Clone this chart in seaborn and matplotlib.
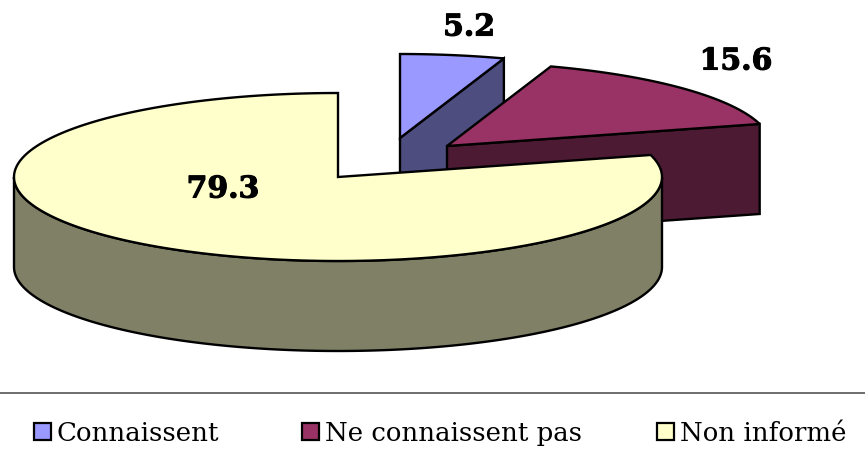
import numpy as np
import matplotlib
matplotlib.use('Agg')
import matplotlib.pyplot as plt
import matplotlib.patheffects as pe
from matplotlib.patches import Rectangle
import seaborn as sns

categories = ['Connaissent', 'Ne connaissent pas', 'Non informé']
values = [5.2, 15.6, 79.3]
value_labels = ['5.2', '15.6', '79.3']

top_colors = ['#9999ff', '#993366', '#ffffcc']
side_colors = ['#4d4d80', '#4d1a33', '#808066']

sns.set_theme(style='white')

# tout est en pixels de l'image
fig = plt.figure(figsize=(8.65, 4.65), dpi=100)
ax = fig.add_axes([0, 0, 1, 1])
ax.set_xlim(0, 865)
ax.set_ylim(465, 0)
ax.axis('off')

# ellipse du camembert
rx, ry, depth = 324, 84, 90
centers = [(400, 138), (447, 146), (338, 177)]


def point(c, t):
    return c[0] + rx * np.cos(np.radians(t)), c[1] - ry * np.sin(np.radians(t))


def arc(c, t1, t2):
    t = np.linspace(t1, t2, 200)
    return c[0] + rx * np.cos(np.radians(t)), c[1] - ry * np.sin(np.radians(t))


# angles depuis le haut, sens horaire
total = sum(values)
fin = 90 - np.cumsum(values) / total * 360
debut = np.r_[90, fin[:-1]]

# tranches de l'arriere vers l'avant
for i in range(3):
    c = centers[i]
    t1, t2 = debut[i], fin[i]
    if i < 2:
        # face coupee visible
        px, py = point(c, t2)
        ax.fill([c[0], px, px, c[0]], [c[1], py, py + depth, c[1] + depth],
                fc=side_colors[i], ec='black', lw=1.7, zorder=2 + 2 * i)
    else:
        # paroi exterieure, moitie basse
        x, y = arc(c, 180, 360)
        ax.fill(np.r_[x, x[::-1]], np.r_[y, y[::-1] + depth],
                fc=side_colors[i], ec='black', lw=1.7, zorder=2 + 2 * i)
    x, y = arc(c, t1, t2)
    ax.fill(np.r_[c[0], x], np.r_[c[1], y], fc=top_colors[i], ec='black',
            lw=1.7, zorder=3 + 2 * i, joinstyle='miter')

label_pos = [(469, 27), (736, 61), (223, 189)]
for txt, (lx, ly) in zip(value_labels, label_pos):
    t = ax.text(lx, ly, txt, ha='center', va='center', fontsize=21.5,
                fontweight='bold', family='DejaVu Serif', color='black', zorder=10)
    t.set_path_effects([pe.withStroke(linewidth=0.8, foreground='black')])

# legende
ax.plot([0, 865], [393, 393], color='#555555', lw=1.2)
leg_x = [34, 302, 657]
for name, col, lx in zip(categories, top_colors, leg_x):
    ax.add_patch(Rectangle((lx, 423), 17, 17, fc=col, ec='black', lw=1.6))
    ax.text(lx + 23, 433, name, ha='left', va='center', fontsize=18.7,
            family='DejaVu Serif', color='black')

fig.savefig('out.png', dpi=100)
